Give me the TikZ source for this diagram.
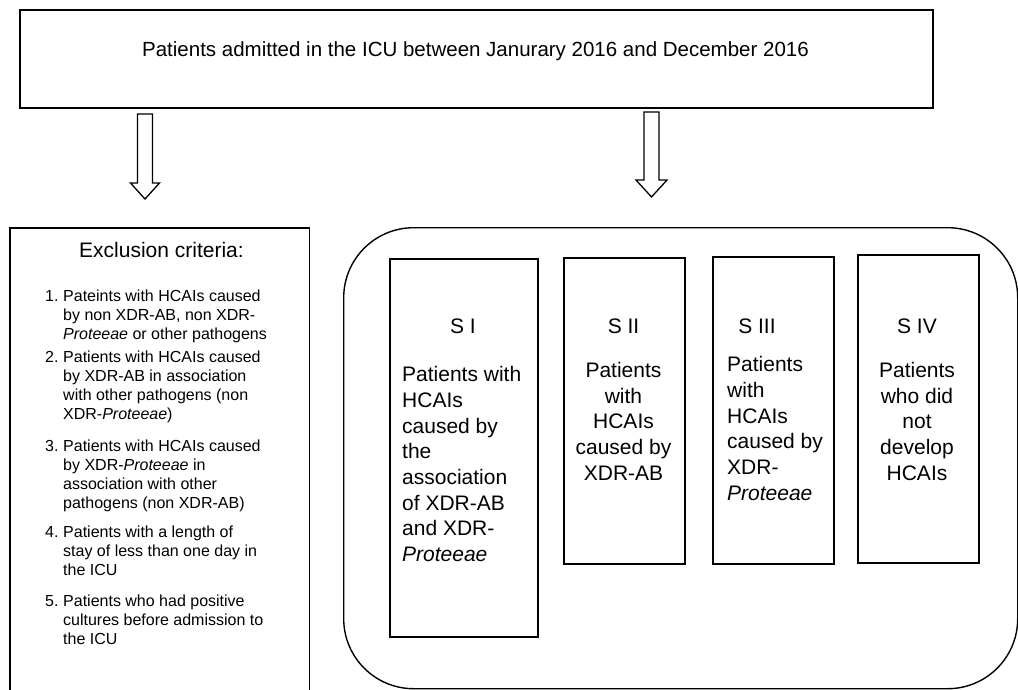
\documentclass[tikz,border=0pt]{standalone}
\usepackage{fontspec}
\setmainfont{Liberation Sans}
\begin{document}
\begin{tikzpicture}[x=1pt,y=-1pt,
  frame/.style={draw, line width=1.7pt, inner sep=0pt},
  blockarrow/.style={draw, line width=1.3pt, line join=miter},
  bigtext/.style={font=\fontsize{21}{25.7}\selectfont, inner sep=0pt},
  smalltext/.style={font=\fontsize{16}{19}\selectfont, inner sep=0pt, align=left, anchor=base west},
  numtext/.style={font=\fontsize{16}{19}\selectfont, inner sep=0pt, anchor=base west}]
\useasboundingbox (0,0) rectangle (1018,689);

% top box
\node[frame, anchor=north west, minimum width=913pt, minimum height=98pt] (top) at (19,9) {};
\node[font=\fontsize{20.5}{24}\selectfont, inner sep=0pt, anchor=base] (toptext) at (475.5,56) {Patients admitted in the ICU between Janurary 2016 and December 2016};

% block arrows
\coordinate (a1) at (145,114);
\coordinate (a2) at (651.5,112);
\draw[blockarrow] (a1) +(-7.5,0) -- +(-7.5,69) -- +(-14.5,69) -- +(0,85) -- +(14.5,69) -- +(7.5,69) -- +(7.5,0) -- cycle;
\draw[blockarrow] (a2) +(-7.5,0) -- +(-7.5,68) -- +(-15.5,68) -- +(0,85) -- +(15.5,68) -- +(7.5,68) -- +(7.5,0) -- cycle;

% exclusion box (open at the bottom)
\node[inner sep=0pt, anchor=north west, minimum width=299pt, minimum height=462pt] (excl) at (10,228) {};
\draw[line width=1.7pt] (excl.south west) -- (excl.north west) -- (excl.north east) -- (excl.south east);
\node[bigtext, anchor=base] (extitle) at (161.5,257) {Exclusion criteria:};

% (multi-line nodes: base anchor = baseline of the last line)
\node[numtext] (n1) at (45,301) {1.};
\node[smalltext] (t1) at (63,339) {Pateints with HCAIs caused\\by non XDR-AB, non XDR-\\\textit{Proteeae} or other pathogens};
\node[numtext] (n2) at (45,362) {2.};
\node[smalltext] (t2) at (63,419) {Patients with HCAIs caused\\by XDR-AB in association\\with other pathogens (non\\XDR-\textit{Proteeae})};
\node[numtext] (n3) at (45,451) {3.};
\node[smalltext] (t3) at (63,508) {Patients with HCAIs caused\\by XDR-\textit{Proteeae} in\\association with other\\pathogens (non XDR-AB)};
\node[numtext] (n4) at (45,537) {4.};
\node[smalltext] (t4) at (63,575) {Patients with a length of\\stay of less than one day in\\the ICU};
\node[numtext] (n5) at (45,606) {5.};
\node[smalltext] (t5) at (63,644) {Patients who had positive\\cultures before admission to\\the ICU};

% rounded group box
\node[draw, line width=1.4pt, rounded corners=70pt, anchor=north west, minimum width=674pt, minimum height=461pt, inner sep=0pt] (group) at (343,227) {};

% S boxes
\node[frame, anchor=north west, minimum width=148pt, minimum height=378pt] (s1) at (389,258) {};
\node[frame, anchor=north west, minimum width=121pt, minimum height=306pt] (s2) at (563,257) {};
\node[frame, anchor=north west, minimum width=121pt, minimum height=307pt] (s3) at (712,256) {};
\node[frame, anchor=north west, minimum width=121pt, minimum height=308pt] (s4) at (857,254) {};

\node[bigtext, anchor=base] (l1) at (463,333) {S I};
\node[bigtext, anchor=base] (l2) at (623.5,333) {S II};
\node[bigtext, anchor=base] (l3) at (757,333) {S III};
\node[bigtext, anchor=base] (l4) at (917,333) {S IV};

\node[bigtext, align=left, anchor=base west] (d1) at (402,561.6) {Patients with\\HCAIs\\caused by\\the\\association\\of XDR-AB\\and XDR-\\\textit{Proteeae}};
\node[bigtext, align=center, anchor=base] (d2) at (623.5,480.1) {Patients\\with\\HCAIs\\caused by\\XDR-AB};
\node[bigtext, align=left, anchor=base west] (d3) at (727,500.2) {Patients\\with\\HCAIs\\caused by\\XDR-\\\textit{Proteeae}};
\node[bigtext, align=center, anchor=base] (d4) at (917,480.1) {Patients\\who did\\not\\develop\\HCAIs};
\end{tikzpicture}
\end{document}
